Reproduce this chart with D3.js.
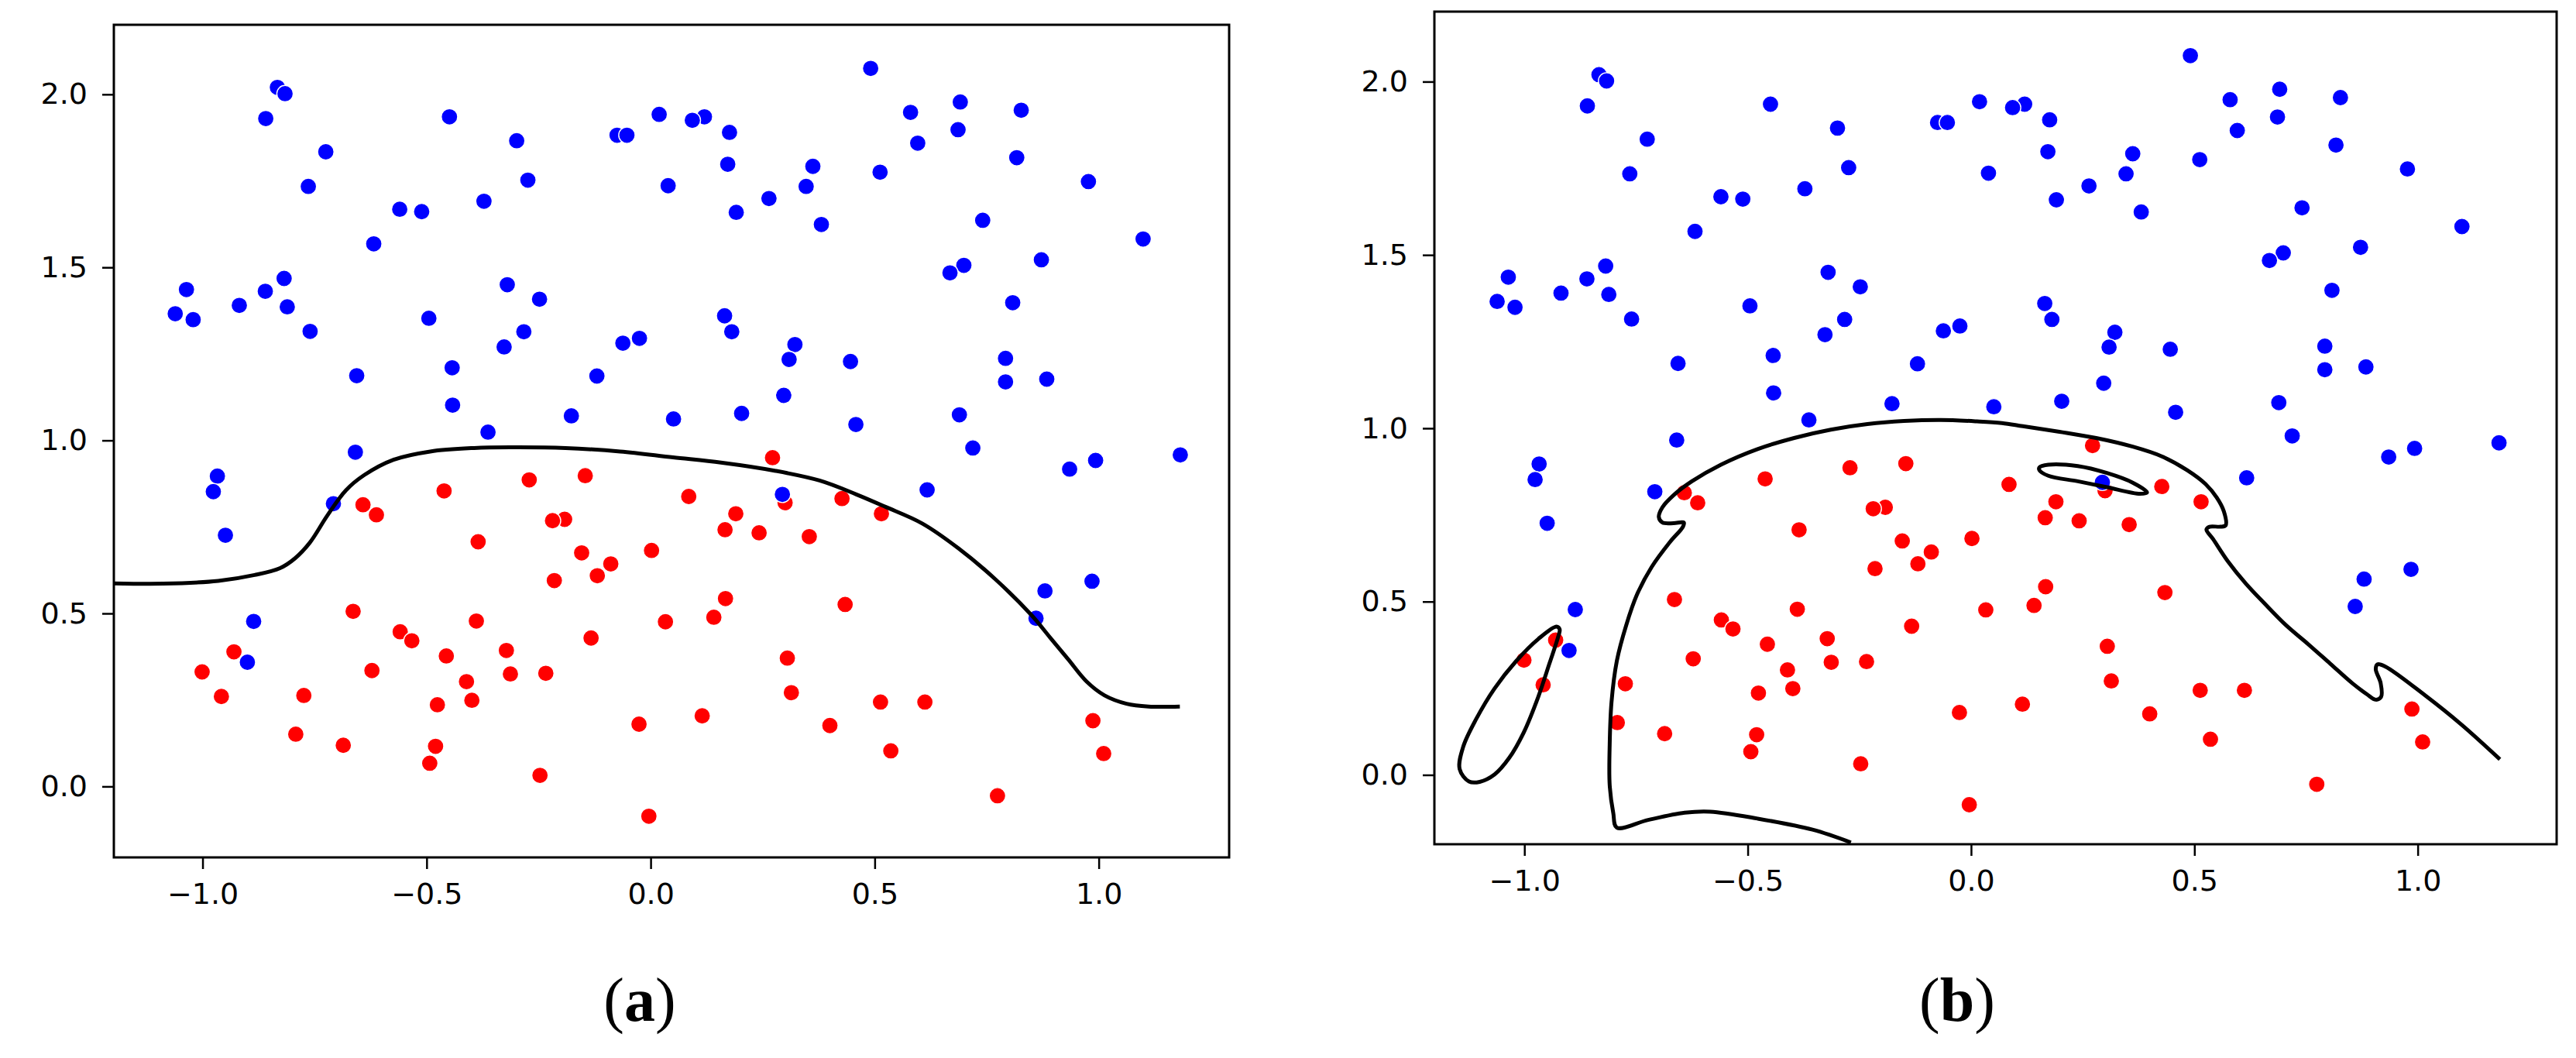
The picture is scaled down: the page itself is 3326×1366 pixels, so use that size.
<!DOCTYPE html>
<html>
<head>
<meta charset="utf-8">
<script src="https://cdn.jsdelivr.net/npm/d3@7"></script>
<style>
html,body{margin:0;padding:0;background:#ffffff;}
svg{display:block;}
</style>
</head>
<body>
<svg id="chart" width="3326" height="1366"></svg>
<script>
// ---------------- data ----------------
const blueX = [-0.833,-0.816,-0.859,-0.449,-0.299,-0.075,-0.053,0.019,-0.725,-0.764,-0.274,0.039,-0.560,-0.511,-0.372,-0.618,
  -1.036,-1.061,-1.021,-0.918,-0.860,-0.818,-0.811,-0.760,-0.495,-0.320,-0.248,-0.283,-0.327,-0.062,-0.025,-0.656,-0.443,-0.120,
  -0.442,-0.177,0.051,-0.363,-0.659,0.491,0.120,0.093,0.176,0.580,0.691,0.827,0.686,0.596,0.817,0.172,0.362,0.512,0.347,0.977,
  0.264,0.191,0.381,0.741,1.099,0.872,0.699,0.668,0.808,0.165,0.181,0.322,0.309,0.446,0.792,0.792,0.884,0.297,0.203,0.458,0.689,
  0.719,0.993,1.182,-0.967,-0.976,-0.708,-0.949,-0.886,-0.900,0.935,0.617,0.294,0.880,0.985,0.860];
const blueY = [2.020,2.002,1.930,1.935,1.866,1.882,1.882,1.942,1.834,1.734,1.752,1.736,1.668,1.661,1.691,1.568,
  1.436,1.366,1.349,1.390,1.431,1.468,1.386,1.315,1.353,1.450,1.408,1.314,1.270,1.281,1.295,1.187,1.210,1.186,
  1.102,1.071,1.062,1.024,0.966,2.075,1.935,1.925,1.890,1.948,1.978,1.954,1.898,1.859,1.817,1.798,1.792,1.775,1.734,1.748,
  1.699,1.659,1.624,1.636,1.582,1.522,1.506,1.484,1.398,1.360,1.314,1.277,1.234,1.228,1.237,1.169,1.177,1.130,1.078,1.046,1.074,
  0.978,0.942,0.958,0.897,0.852,0.817,0.726,0.477,0.359,0.917,0.857,0.844,0.565,0.593,0.486];

const redX = [-0.642,-0.612,-0.461,-0.271,-0.146,-0.192,-0.219,-0.385,-0.154,-0.089,-0.119,-0.215,0.002,-0.664,-0.389,0.033,
  -0.133,-0.559,-0.533,-0.456,-0.322,-0.930,-1.001,-0.622,-0.313,-0.234,-0.411,-0.958,-0.774,-0.399,-0.476,-0.792,-0.686,-0.480,
  -0.493,-0.026,-0.247,-0.004,0.272,0.085,0.300,0.427,0.190,0.515,0.166,0.242,0.354,0.167,0.141,0.434,0.305,0.314,0.115,0.400,
  0.513,0.612,0.536,0.987,1.011,0.774];
const redY = [0.814,0.785,0.854,0.886,0.898,0.772,0.768,0.707,0.675,0.643,0.609,0.595,0.682,0.506,0.478,0.476,
  0.429,0.447,0.421,0.377,0.393,0.389,0.331,0.335,0.325,0.327,0.303,0.260,0.263,0.249,0.236,0.151,0.119,0.116,
  0.067,0.180,0.032,-0.086,0.950,0.838,0.820,0.832,0.788,0.788,0.742,0.733,0.722,0.543,0.489,0.526,0.371,0.271,0.204,0.176,
  0.244,0.244,0.103,0.190,0.095,-0.027];

// decision boundary, panel (a)
const boundaryAX = [-1.198,-1.088,-0.965,-0.884,-0.827,-0.794,-0.761,-0.721,-0.680,-0.639,-0.574,-0.492,-0.394,-0.313,-0.190,-0.068,
  0.050,0.157,0.279,0.377,0.459,0.524,0.606,0.687,0.769,0.850,0.891,0.932,0.973,1.013,1.062,1.111,1.181];
const boundaryAY = [0.587,0.586,0.594,0.611,0.631,0.659,0.704,0.784,0.856,0.900,0.944,0.968,0.978,0.980,0.978,0.968,
  0.951,0.936,0.912,0.884,0.844,0.808,0.760,0.688,0.599,0.495,0.431,0.367,0.303,0.263,0.239,0.231,0.231];

// decision boundary, panel (b): main curve
const boundaryBX = [-0.269,-0.355,-0.478,-0.584,-0.641,-0.723,-0.793,-0.801,-0.809,-0.809,-0.805,-0.793,-0.772,-0.748,-0.715,-0.674,
  -0.645,-0.643,-0.666,-0.691,-0.699,-0.691,-0.666,-0.625,-0.560,-0.478,-0.396,-0.314,-0.232,-0.150,-0.068,0.013,0.069,0.116,0.198,
  0.280,0.362,0.427,0.484,0.525,0.550,0.566,0.570,0.558,0.534,0.527,0.542,0.575,0.615,0.656,0.705,0.755,0.804,0.853,0.886,0.906,
  0.918,0.917,0.906,0.910,0.927,1.017,1.098,1.184];
const boundaryBY = [-0.195,-0.158,-0.126,-0.106,-0.109,-0.130,-0.152,-0.110,-0.030,0.089,0.209,0.329,0.432,0.520,0.600,0.672,
  0.716,0.728,0.726,0.728,0.744,0.772,0.807,0.847,0.895,0.940,0.972,0.996,1.012,1.021,1.024,1.020,1.015,1.006,0.990,
  0.972,0.947,0.919,0.879,0.839,0.800,0.760,0.720,0.716,0.716,0.708,0.680,0.616,0.552,0.496,0.432,0.377,0.321,0.265,0.233,0.217,
  0.225,0.265,0.305,0.319,0.313,0.229,0.145,0.045];
// panel (b): closed loop at left
const loopLeftX = [-0.928,-0.969,-1.018,-1.067,-1.108,-1.137,-1.145,-1.124,-1.100,-1.067,-1.034,-1.002,-0.969,-0.944,-0.924,-0.921];
const loopLeftY = [0.428,0.392,0.329,0.249,0.161,0.081,0.017,-0.019,-0.020,0.001,0.049,0.121,0.225,0.321,0.400,0.420];
// panel (b): closed loop near the top
const loopTopX = [0.153,0.173,0.239,0.304,0.362,0.394,0.378,0.304,0.239,0.173,0.153];
const loopTopY = [0.887,0.895,0.891,0.871,0.843,0.815,0.811,0.830,0.847,0.863,0.879];

const xTickValues = [-1.0,-0.5,0.0,0.5,1.0];
const yTickValues = [0.0,0.5,1.0,1.5,2.0];
const panelLabels = ["a","b"];

// ---------------- drawing ----------------
const svg = d3.select("#chart");
const zip = (xs, ys) => xs.map((v, i) => [v, ys[i]]);
const bluePts = zip(blueX, blueY);
const redPts = zip(redX, redY);

const panels = [
  {left:147, right:1587, top:32, bottom:1107, xd:[-1.198,1.291], yd:[-0.205,2.201], labelX:826,
   curves:[{pts:zip(boundaryAX,boundaryAY), closed:false}]},
  {left:1852, right:3301, top:15, bottom:1090, xd:[-1.2015,1.311], yd:[-0.200,2.202], labelX:2527,
   curves:[{pts:zip(boundaryBX,boundaryBY), closed:false},
           {pts:zip(loopLeftX,loopLeftY), closed:true},
           {pts:zip(loopTopX,loopTopY), closed:true}]}
];

const fmt = d3.format(".1f");
panels.forEach((p, pi) => {
  const x = d3.scaleLinear().domain(p.xd).range([p.left, p.right]);
  const y = d3.scaleLinear().domain(p.yd).range([p.bottom, p.top]);
  const g = svg.append("g");
  const clipId = "clip" + pi;
  svg.append("clipPath").attr("id", clipId).append("rect")
    .attr("x", p.left).attr("y", p.top).attr("width", p.right - p.left).attr("height", p.bottom - p.top);

  const plot = g.append("g").attr("clip-path", `url(#${clipId})`);
  plot.selectAll("circle.red").data(redPts).join("circle")
    .attr("class","red").attr("cx", d => x(d[0])).attr("cy", d => y(d[1])).attr("r", 10.6)
    .attr("fill", "#ff0000").attr("stroke", "#ffffff").attr("stroke-width", 1.4);
  plot.selectAll("circle.blue").data(bluePts).join("circle")
    .attr("class","blue").attr("cx", d => x(d[0])).attr("cy", d => y(d[1])).attr("r", 10.6)
    .attr("fill", "#0000ff").attr("stroke", "#ffffff").attr("stroke-width", 1.4);

  p.curves.forEach(c => {
    const line = d3.line().x(d => x(d[0])).y(d => y(d[1]))
      .curve(c.closed ? d3.curveCatmullRomClosed.alpha(0.5) : d3.curveCatmullRom.alpha(0.5));
    plot.append("path").attr("d", line(c.pts)).attr("fill", "none")
      .attr("stroke", "#000000").attr("stroke-width", 5).attr("stroke-linejoin", "round").attr("stroke-linecap","butt");
  });

  const xAxis = d3.axisBottom(x).tickValues(xTickValues).tickFormat(fmt).tickSize(15).tickPadding(18).tickSizeOuter(0);
  const yAxis = d3.axisLeft(y).tickValues(yTickValues).tickFormat(fmt).tickSize(15).tickPadding(19).tickSizeOuter(0);
  const gx = g.append("g").attr("transform", `translate(0,${p.bottom})`).call(xAxis);
  const gy = g.append("g").attr("transform", `translate(${p.left},0)`).call(yAxis);
  [gx, gy].forEach(ax => {
    ax.select(".domain").remove();
    ax.selectAll(".tick line").attr("stroke", "#000").attr("stroke-width", 2.5);
    ax.selectAll(".tick text").attr("fill", "#000")
      .style("font-family", "'DejaVu Sans', sans-serif").style("font-size", "38px");
  });

  g.append("rect").attr("x", p.left).attr("y", p.top)
    .attr("width", p.right - p.left).attr("height", p.bottom - p.top)
    .attr("fill", "none").attr("stroke", "#000").attr("stroke-width", 3);

  const t = svg.append("text").attr("x", p.labelX).attr("y", 1318).attr("text-anchor", "middle")
    .style("font-family", "'Liberation Serif', 'DejaVu Serif', serif").style("font-size", "80px").attr("fill", "#000");
  t.append("tspan").text("(");
  t.append("tspan").style("font-weight", "bold").text(panelLabels[pi]);
  t.append("tspan").text(")");
});
</script>
</body>
</html>
